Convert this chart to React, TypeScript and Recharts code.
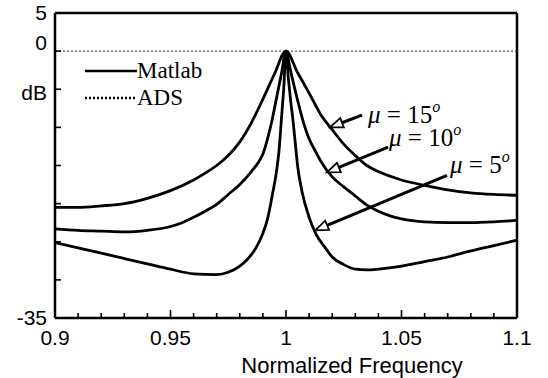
import { LineChart, Line, XAxis, YAxis, ReferenceLine, ReferenceDot } from "recharts"

// mu = 15 grados (curva superior)
const FREQ_15 = [0.9, 0.91, 0.92, 0.93, 0.94, 0.95, 0.96, 0.965, 0.97, 0.975, 0.98, 0.985, 0.99, 0.995, 1.0,
  1.005, 1.01, 1.015, 1.02, 1.025, 1.03, 1.035, 1.04, 1.05, 1.06, 1.07, 1.08, 1.09, 1.1]
const DB_15 = [-20.5, -20.5, -20.3, -20.0, -19.3, -18.3, -16.9, -16.0, -15.0, -13.7, -11.9, -9.4, -6.3, -3.0, 0,
  -2.8, -5.5, -8.3, -10.3, -12.2, -13.7, -15.0, -15.8, -16.9, -17.6, -18.2, -18.6, -18.8, -18.9]

// mu = 10 grados
const FREQ_10 = [0.9, 0.91, 0.92, 0.93, 0.94, 0.95, 0.955, 0.96, 0.965, 0.97, 0.975, 0.98, 0.985, 0.988, 0.99, 0.992, 0.994, 0.996, 0.998, 1.0,
  1.002, 1.004, 1.006, 1.008, 1.01, 1.0125, 1.015, 1.02, 1.025, 1.03, 1.035, 1.04, 1.045, 1.05, 1.06, 1.07, 1.08, 1.09, 1.1]
const DB_10 = [-23.3, -23.5, -23.6, -23.7, -23.5, -23.0, -22.5, -21.8, -21.0, -20.1, -18.8, -17.5, -15.8, -14.6, -13.5, -11.5, -9.0, -6.0, -3.0, 0,
  -2.6, -5.2, -7.6, -9.8, -11.5, -13.0, -14.4, -16.5, -17.8, -19.0, -20.2, -21.0, -21.6, -22.0, -22.4, -22.5, -22.5, -22.4, -22.2]

// mu = 5 grados (curva inferior)
const FREQ_5 = [0.9, 0.91, 0.92, 0.93, 0.94, 0.95, 0.96, 0.97, 0.975, 0.98, 0.983, 0.987, 0.99, 0.992, 0.994, 0.996, 0.997, 0.998, 0.999, 1.0,
  1.001, 1.002, 1.003, 1.004, 1.005, 1.007, 1.01, 1.013, 1.017, 1.02, 1.025, 1.03, 1.035, 1.04, 1.05, 1.06, 1.07, 1.08, 1.09, 1.1]
const DB_5 = [-25.1, -25.8, -26.5, -27.2, -27.9, -28.6, -29.2, -29.3, -29.0, -28.2, -27.4, -25.8, -23.9, -22.0, -19.0, -15.5, -13.0, -9.0, -5.0, 0,
  -3.5, -6.5, -9.0, -12.0, -15.0, -18.5, -21.8, -24.0, -25.8, -27.0, -28.0, -28.6, -28.7, -28.6, -28.2, -27.6, -27.0, -26.2, -25.5, -24.8]

const X_TICKS = [0.9, 0.91, 0.92, 0.93, 0.94, 0.95, 0.96, 0.97, 0.98, 0.99, 1.0,
  1.01, 1.02, 1.03, 1.04, 1.05, 1.06, 1.07, 1.08, 1.09, 1.1]
const Y_TICKS = [5, 0, -5, -10, -15, -20, -25, -30, -35]
const Y_LABELS: Record<number, string> = { 5: "5", 0: "0", [-5]: "dB", [-35]: "-35" }

// anotaciones: texto y flecha (desde, hasta) en coordenadas de datos
const ANOTACIONES = [
  { mu: "15", texto: [1.0355, -9.4], desde: [1.0329, -8.4], hasta: [1.019, -10.0] },
  { mu: "10", texto: [1.0446, -12.5], desde: [1.0442, -12.6], hasta: [1.0177, -15.9] },
  { mu: "5", texto: [1.071, -16.0], desde: [1.0697, -16.3], hasta: [1.0126, -23.5] },
]

const armar = (fs: number[], dbs: number[]) => fs.map((f, i) => ({ f, db: dbs[i] }))
const serie15 = armar(FREQ_15, DB_15)
const serie10 = armar(FREQ_10, DB_10)
const serie5 = armar(FREQ_5, DB_5)

const SANS = "Arial, 'Liberation Sans', sans-serif"
const SERIF = "'Times New Roman', 'Liberation Serif', serif"

const TickX = ({ x, y, payload }: any) => {
  const v = payload.value as number
  const mayor = Math.round(v * 100) % 5 === 0
  return (
    <g>
      <line x1={x} x2={x} y1={y} y2={y - (mayor ? 8 : 5)} stroke="#000" strokeWidth={1.6} />
      {mayor && (
        <text x={x} y={y + 27} textAnchor="middle" fontFamily={SANS} fontSize={21} fill="#000">
          {String(v)}
        </text>
      )}
    </g>
  )
}

const TickY = ({ x, y, payload }: any) => {
  const v = payload.value as number
  const txt = Y_LABELS[v] ?? ""
  const dy = v === 0 ? -1 : v === -5 ? 11 : 7
  return (
    <g>
      {v !== 5 && v !== -35 && <line x1={x} x2={x + 6} y1={y} y2={y} stroke="#000" strokeWidth={1.6} />}
      {txt && (
        <text x={x - 8} y={y + dy} textAnchor="end" fontFamily={SANS} fontSize={21} fill="#000">
          {txt}
        </text>
      )}
    </g>
  )
}

const Flecha = ({ x1, y1, x2, y2 }: any) => {
  const dx = x2 - x1
  const dy = y2 - y1
  const len = Math.sqrt(dx * dx + dy * dy)
  const ux = dx / len
  const uy = dy / len
  const largo = 13
  const ancho = 5
  const bx = x2 - ux * largo
  const by = y2 - uy * largo
  const punta = `${x2},${y2} ${bx - uy * ancho},${by + ux * ancho} ${bx + uy * ancho},${by - ux * ancho}`
  return (
    <g>
      <line x1={x1} y1={y1} x2={bx} y2={by} stroke="#000" strokeWidth={3} />
      <polygon points={punta} fill="#fff" stroke="#000" strokeWidth={1.8} />
    </g>
  )
}

const TextoMu = ({ cx, cy, mu }: any) => (
  <text x={cx} y={cy} fontFamily={SERIF} fontSize={25} fill="#000">
    <tspan fontStyle="italic">μ</tspan>
    <tspan> = {mu}</tspan>
    <tspan dy={-11} fontSize={16} fontStyle="italic">o</tspan>
  </text>
)

// leyenda dibujada a mano, encima del gráfico
const Leyenda = () => (
  <div style={{ position: "absolute", left: 85, top: 57, fontFamily: SERIF, fontSize: 23, color: "#000", lineHeight: "27px" }}>
    <div style={{ display: "flex", alignItems: "center" }}>
      <svg width={52} height={10}>
        <line x1={0} x2={52} y1={5} y2={5} stroke="#000" strokeWidth={2.5} />
      </svg>
      <span>Matlab</span>
    </div>
    <div style={{ display: "flex", alignItems: "center" }}>
      <svg width={52} height={10}>
        <line x1={0} x2={50} y1={5} y2={5} stroke="#000" strokeWidth={2.5} strokeDasharray="2 2" />
      </svg>
      <span>ADS</span>
    </div>
  </div>
)

export default function App() {
  return (
    <div style={{ position: "absolute", left: 0, top: 0, width: 548, height: 378, background: "#fff" }}>
      <LineChart width={548} height={378} margin={{ top: 13, right: 31, bottom: 10, left: 0 }}>
        <XAxis
          dataKey="f"
          type="number"
          domain={[0.9, 1.1]}
          ticks={X_TICKS}
          allowDataOverflow
          height={50}
          tickLine={false}
          tickSize={0}
          tickMargin={0}
          axisLine={{ stroke: "#000", strokeWidth: 2.5 }}
          tick={<TickX />}
          interval={0}
          label={{
            content: ({ viewBox }: any) => (
              <text x={viewBox.x + viewBox.width / 2 + 66} y={viewBox.y + 55} textAnchor="middle"
                fontFamily={SANS} fontSize={22} fill="#000">
                Normalized Frequency
              </text>
            ),
          }}
        />
        <YAxis
          type="number"
          domain={[-35, 5]}
          ticks={Y_TICKS}
          allowDataOverflow
          width={55}
          tickLine={false}
          tickSize={0}
          tickMargin={0}
          axisLine={{ stroke: "#000", strokeWidth: 2.5 }}
          tick={<TickY />}
          interval={0}
        />
        <ReferenceLine y={5} stroke="#000" strokeWidth={2.5} />
        <ReferenceLine x={1.1} stroke="#000" strokeWidth={2.5} />
        <ReferenceLine y={0} stroke="#333" strokeWidth={1} strokeDasharray="2 2" />
        <Line data={serie15} dataKey="db" type="monotone" dot={false} stroke="#000" strokeWidth={2.8} isAnimationActive={false} />
        <Line data={serie10} dataKey="db" type="monotone" dot={false} stroke="#000" strokeWidth={2.8} isAnimationActive={false} />
        <Line data={serie5} dataKey="db" type="monotone" dot={false} stroke="#000" strokeWidth={2.8} isAnimationActive={false} />
        {ANOTACIONES.map((a) => (
          <ReferenceLine
            key={`flecha-${a.mu}`}
            segment={[{ x: a.desde[0], y: a.desde[1] }, { x: a.hasta[0], y: a.hasta[1] }]}
            shape={(p: any) => <Flecha {...p} />}
          />
        ))}
        {ANOTACIONES.map((a) => (
          <ReferenceDot
            key={`texto-${a.mu}`}
            x={a.texto[0]}
            y={a.texto[1]}
            r={0}
            shape={(p: any) => <TextoMu {...p} mu={a.mu} />}
          />
        ))}
      </LineChart>
      <Leyenda />
    </div>
  )
}
